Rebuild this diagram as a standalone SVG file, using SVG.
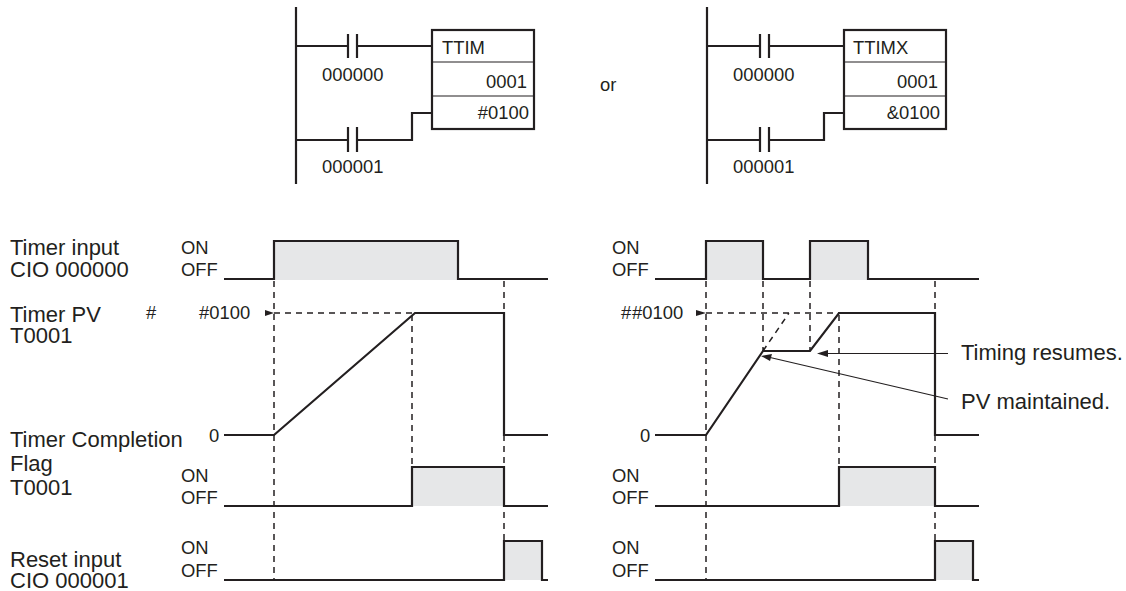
<svg xmlns="http://www.w3.org/2000/svg" width="1126" height="591" viewBox="0 0 1126 591">
<style>
text{font-family:"Liberation Sans",Arial,sans-serif;fill:#231f20}
.s{font-size:18.4px}
.l{font-size:22px}
.r{text-anchor:end}
.w{fill:none;stroke:#231f20;stroke-width:2.2px;stroke-linejoin:miter}
.t{fill:none;stroke:#231f20;stroke-width:1.2px}
.d{fill:none;stroke:#231f20;stroke-width:1.5px;stroke-dasharray:6 5}
.f{fill:#e6e7e8}
.b{fill:#fff;stroke:#231f20;stroke-width:2.2px}
.m{fill:none;stroke:#231f20;stroke-width:1.2px}
.h{fill:#231f20}
</style>
<rect width="1126" height="591" fill="#fff"/>
<g id="ladder-left">
<path class="w" d="M296 7V184M296 46H348M348 34V58M357 34V58M357 46H432M296 140H348M348 127V152M357 127V152M357 140H412V113H432"/>
<rect class="b" x="432" y="30" width="102" height="99"/>
<path class="m" d="M432 62H534M432 96H534"/>
<text class="s" x="442" y="54">TTIM</text>
<text class="s r" x="527" y="88">0001</text>
<text class="s r" x="529" y="119">#0100</text>
<text class="s" x="322" y="81">000000</text>
<text class="s" x="322" y="173">000001</text>
</g>
<text class="s" x="600" y="91">or</text>
<g id="ladder-right">
<path class="w" d="M707 7V184M707 46H760M760 34V58M769 34V58M769 46H844M707 140H760M760 127V152M769 127V152M769 140H824V113H844"/>
<rect class="b" x="844" y="30" width="102" height="99"/>
<path class="m" d="M844 62H946M844 96H946"/>
<text class="s" x="853" y="54">TTIMX</text>
<text class="s r" x="938" y="88">0001</text>
<text class="s r" x="940" y="119">&amp;0100</text>
<text class="s" x="733" y="81">000000</text>
<text class="s" x="733" y="173">000001</text>
</g>
<g id="signal-labels">
<text class="l" x="10" y="255">Timer input</text>
<text class="l" x="10" y="277">CIO 000000</text>
<text class="l" x="10" y="322">Timer PV</text>
<text class="l" x="10" y="343">T0001</text>
<text class="l" x="10" y="447">Timer Completion</text>
<text class="l" x="10" y="471">Flag</text>
<text class="l" x="10" y="495">T0001</text>
<text class="l" x="10" y="567">Reset input</text>
<text class="l" x="10" y="588">CIO 000001</text>
</g>
<g id="chart-left">
<rect class="f" x="274" y="241" width="184" height="39"/>
<rect class="f" x="412" y="467" width="92" height="39"/>
<rect class="f" x="504" y="541" width="38" height="39"/>
<path class="d" d="M274 281V580M274 313H412M412 315V467M504 281V541"/>
<path class="h" d="M265 310L274 313L265 316Z"/>
<path class="w" d="M224 279H274V241H458V279H548"/>
<path class="w" d="M224 435H274L415 313H504V435H548"/>
<path class="w" d="M224 506H412V467H504V506H548"/>
<path class="w" d="M224 580H504V541H542V580H548"/>
<text class="s" x="181" y="254">ON</text>
<text class="s" x="181" y="276">OFF</text>
<text class="s" x="146" y="319">#</text>
<text class="s" x="199" y="319">#0100</text>
<text class="s" x="209" y="442">0</text>
<text class="s" x="181" y="482">ON</text>
<text class="s" x="181" y="504">OFF</text>
<text class="s" x="181" y="554">ON</text>
<text class="s" x="181" y="577">OFF</text>
</g>
<g id="chart-right">
<rect class="f" x="706" y="241" width="57" height="39"/>
<rect class="f" x="810" y="241" width="58" height="39"/>
<rect class="f" x="839" y="467" width="96" height="39"/>
<rect class="f" x="935" y="541" width="38" height="39"/>
<path class="d" d="M706 281V580M706 313H839M763 281V351M810 281V351M839 315V467M935 281V541M763 351L789 313"/>
<path class="h" d="M696 310L706 313L696 316Z"/>
<path class="w" d="M655 279H706V241H763V279H810V241H868V279H979"/>
<path class="w" d="M655 435H706L763 351H810L839 313H935V435H979"/>
<path class="w" d="M655 506H839V467H935V506H979"/>
<path class="w" d="M655 580H935V541H973V580H979"/>
<text class="s" x="612" y="254">ON</text>
<text class="s" x="612" y="276">OFF</text>
<text class="s" x="621" y="319">#</text>
<text class="s" x="632" y="319">#0100</text>
<text class="s" x="640" y="442">0</text>
<text class="s" x="612" y="482">ON</text>
<text class="s" x="612" y="504">OFF</text>
<text class="s" x="612" y="554">ON</text>
<text class="s" x="612" y="577">OFF</text>
</g>
<g id="callouts">
<path class="t" d="M948 353.500H822M948 399L768 357"/>
<path class="h" d="M817 353.500L828 350L828 357Z"/>
<path class="h" d="M761 356L772 354L770 361Z"/>
<text class="l" x="961" y="360">Timing resumes.</text>
<text class="l" x="961" y="409">PV maintained.</text>
</g>
</svg>
